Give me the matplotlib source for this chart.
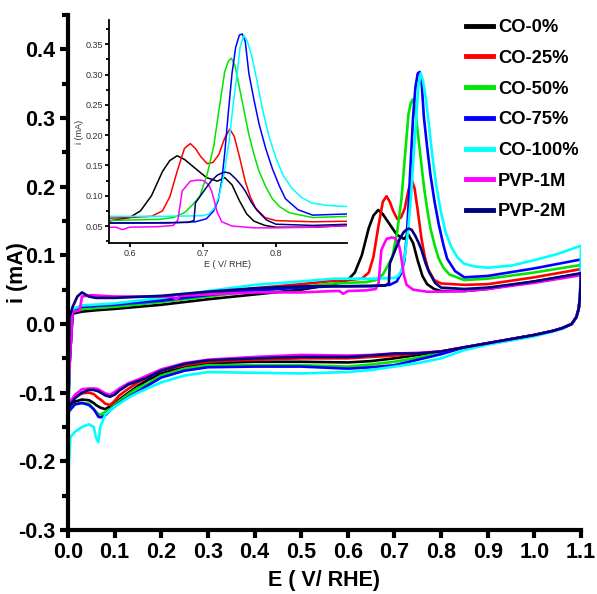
import matplotlib
matplotlib.use("Agg")
import matplotlib.pyplot as plt
from matplotlib.ticker import MultipleLocator, FormatStrFormatter
import warnings
warnings.filterwarnings("ignore")

plt.rcParams['font.family'] = ['Liberation Sans', 'DejaVu Sans']

labels = ["CO-0%", "CO-25%", "CO-50%", "CO-75%", "CO-100%", "PVP-1M", "PVP-2M"]
colors = ["#000000", "#ff0000", "#00e600", "#0000ff", "#00ffff", "#ff00ff", "#000080"]

# ---------- anodic sweeps (0 -> 1.1 V) ----------
E_an_black = [0.0, 0.004, 0.01, 0.03, 0.06, 0.1, 0.2, 0.3, 0.4, 0.5, 0.57, 0.6, 0.615, 0.63, 0.645, 0.655, 0.665, 0.675, 0.69, 0.705, 0.72, 0.73, 0.74, 0.75, 0.76, 0.77, 0.785, 0.8, 0.85, 0.9, 1.0, 1.1]
i_an_black = [-0.125, -0.05, 0.015, 0.018, 0.020, 0.022, 0.028, 0.036, 0.043, 0.050, 0.058, 0.064, 0.075, 0.100, 0.140, 0.158, 0.166, 0.160, 0.145, 0.130, 0.124, 0.130, 0.118, 0.092, 0.070, 0.058, 0.051, 0.048, 0.048, 0.051, 0.062, 0.073]

E_an_red = [0.0, 0.004, 0.01, 0.03, 0.1, 0.2, 0.3, 0.4, 0.5, 0.57, 0.6, 0.63, 0.645, 0.655, 0.665, 0.675, 0.683, 0.69, 0.697, 0.706, 0.714, 0.722, 0.73, 0.737, 0.743, 0.75, 0.758, 0.765, 0.772, 0.785, 0.8, 0.85, 0.9, 1.0, 1.1]
i_an_red = [-0.12, -0.05, 0.020, 0.025, 0.028, 0.035, 0.044, 0.052, 0.058, 0.063, 0.064, 0.066, 0.075, 0.098, 0.140, 0.178, 0.186, 0.178, 0.165, 0.153, 0.155, 0.168, 0.195, 0.210, 0.198, 0.165, 0.124, 0.098, 0.080, 0.064, 0.059, 0.057, 0.058, 0.068, 0.080]

E_an_green = [0.0, 0.004, 0.01, 0.03, 0.1, 0.2, 0.3, 0.4, 0.5, 0.57, 0.6, 0.64, 0.66, 0.675, 0.686, 0.696, 0.706, 0.715, 0.722, 0.73, 0.735, 0.739, 0.744, 0.749, 0.756, 0.763, 0.77, 0.777, 0.786, 0.795, 0.805, 0.818, 0.85, 0.9, 1.0, 1.1]
i_an_green = [-0.125, -0.05, 0.018, 0.022, 0.025, 0.032, 0.040, 0.048, 0.054, 0.059, 0.060, 0.061, 0.064, 0.072, 0.085, 0.099, 0.135, 0.182, 0.240, 0.305, 0.322, 0.327, 0.315, 0.285, 0.243, 0.201, 0.168, 0.140, 0.115, 0.095, 0.082, 0.072, 0.064, 0.066, 0.075, 0.086]

E_an_blue = [0.0, 0.004, 0.01, 0.03, 0.1, 0.2, 0.3, 0.4, 0.5, 0.57, 0.6, 0.65, 0.69, 0.705, 0.715, 0.721, 0.726, 0.73, 0.735, 0.74, 0.745, 0.75, 0.754, 0.758, 0.763, 0.77, 0.777, 0.786, 0.795, 0.805, 0.813, 0.83, 0.85, 0.9, 1.0, 1.1]
i_an_blue = [-0.13, -0.05, 0.020, 0.025, 0.028, 0.034, 0.042, 0.049, 0.053, 0.055, 0.055, 0.055, 0.057, 0.062, 0.075, 0.092, 0.125, 0.170, 0.238, 0.302, 0.345, 0.365, 0.367, 0.355, 0.302, 0.258, 0.218, 0.178, 0.145, 0.115, 0.095, 0.077, 0.068, 0.070, 0.081, 0.094]

E_an_cyan = [0.0, 0.004, 0.01, 0.03, 0.1, 0.2, 0.3, 0.4, 0.5, 0.57, 0.6, 0.65, 0.7, 0.708, 0.715, 0.722, 0.729, 0.736, 0.742, 0.747, 0.751, 0.756, 0.761, 0.767, 0.774, 0.781, 0.79, 0.8, 0.81, 0.822, 0.835, 0.849, 0.87, 0.9, 0.95, 1.0, 1.05, 1.1]
i_an_cyan = [-0.23, 0.0, 0.022, 0.027, 0.030, 0.038, 0.048, 0.057, 0.062, 0.066, 0.066, 0.066, 0.067, 0.070, 0.078, 0.098, 0.135, 0.190, 0.255, 0.302, 0.345, 0.365, 0.355, 0.330, 0.290, 0.246, 0.200, 0.162, 0.133, 0.112, 0.097, 0.088, 0.084, 0.082, 0.085, 0.093, 0.102, 0.114]

E_an_mag = [0.0, 0.004, 0.01, 0.025, 0.03, 0.05, 0.1, 0.2, 0.225, 0.232, 0.24, 0.3, 0.4, 0.5, 0.57, 0.582, 0.59, 0.6, 0.64, 0.66, 0.666, 0.672, 0.683, 0.694, 0.701, 0.708, 0.712, 0.715, 0.72, 0.726, 0.74, 0.77, 0.8, 0.85, 0.9, 1.0, 1.1]
i_an_mag = [-0.12, -0.05, 0.018, 0.020, 0.040, 0.042, 0.040, 0.040, 0.040, 0.035, 0.041, 0.043, 0.046, 0.046, 0.048, 0.048, 0.044, 0.048, 0.049, 0.051, 0.060, 0.108, 0.124, 0.126, 0.125, 0.118, 0.108, 0.095, 0.072, 0.057, 0.050, 0.047, 0.047, 0.048, 0.051, 0.060, 0.071]

E_an_navy = [0.0, 0.003, 0.01, 0.02, 0.03, 0.045, 0.06, 0.1, 0.2, 0.3, 0.4, 0.5, 0.57, 0.6, 0.68, 0.688, 0.69, 0.697, 0.704, 0.712, 0.72, 0.727, 0.731, 0.737, 0.745, 0.752, 0.758, 0.766, 0.774, 0.787, 0.8, 0.85, 0.9, 1.0, 1.1]
i_an_navy = [-0.125, 0.01, 0.025, 0.040, 0.046, 0.040, 0.038, 0.038, 0.041, 0.047, 0.052, 0.055, 0.055, 0.055, 0.056, 0.059, 0.088, 0.100, 0.112, 0.125, 0.134, 0.138, 0.139, 0.137, 0.128, 0.118, 0.108, 0.090, 0.076, 0.060, 0.053, 0.051, 0.053, 0.062, 0.074]

# ---------- cathodic sweeps (1.1 -> 0 V) ----------
E_cat = [1.1, 1.098, 1.095, 1.09, 1.08, 1.06, 1.04, 1.0, 0.9, 0.85, 0.8, 0.75, 0.7, 0.65, 0.6, 0.5, 0.4, 0.3, 0.25, 0.2, 0.17, 0.15, 0.13, 0.11, 0.1, 0.09, 0.08, 0.07, 0.065, 0.06, 0.055, 0.045, 0.03, 0.015, 0.005, 0.0]
i_cat_black = [0.073, 0.04, 0.022, 0.010, 0.0, -0.006, -0.010, -0.016, -0.028, -0.034, -0.040, -0.045, -0.050, -0.054, -0.056, -0.055, -0.055, -0.057, -0.062, -0.072, -0.082, -0.090, -0.100, -0.110, -0.115, -0.120, -0.124, -0.122, -0.120, -0.118, -0.115, -0.111, -0.110, -0.113, -0.120, -0.125]
i_cat_red = [0.080, 0.04, 0.022, 0.010, 0.0, -0.006, -0.010, -0.016, -0.028, -0.034, -0.040, -0.043, -0.046, -0.048, -0.050, -0.050, -0.052, -0.055, -0.060, -0.068, -0.078, -0.085, -0.094, -0.104, -0.112, -0.118, -0.116, -0.110, -0.108, -0.105, -0.102, -0.100, -0.101, -0.106, -0.114, -0.12]
i_cat_green = [0.086, 0.04, 0.022, 0.010, 0.0, -0.006, -0.010, -0.016, -0.028, -0.034, -0.042, -0.049, -0.055, -0.059, -0.062, -0.060, -0.060, -0.060, -0.065, -0.075, -0.087, -0.093, -0.102, -0.112, -0.118, -0.124, -0.128, -0.132, -0.131, -0.128, -0.124, -0.116, -0.115, -0.117, -0.122, -0.125]
i_cat_blue = [0.094, 0.04, 0.022, 0.010, 0.0, -0.006, -0.010, -0.016, -0.028, -0.034, -0.044, -0.052, -0.060, -0.063, -0.065, -0.062, -0.062, -0.063, -0.068, -0.078, -0.090, -0.098, -0.106, -0.115, -0.120, -0.126, -0.133, -0.136, -0.135, -0.129, -0.124, -0.118, -0.115, -0.117, -0.125, -0.13]
i_cat_cyan = [0.114, 0.04, 0.022, 0.010, 0.0, -0.007, -0.011, -0.018, -0.030, -0.038, -0.050, -0.057, -0.062, -0.067, -0.070, -0.072, -0.071, -0.070, -0.075, -0.085, -0.094, -0.100, -0.107, -0.116, -0.120, -0.126, -0.132, -0.148, -0.172, -0.165, -0.150, -0.146, -0.150, -0.157, -0.165, -0.23]
i_cat_mag = [0.071, 0.04, 0.022, 0.010, 0.0, -0.006, -0.010, -0.016, -0.028, -0.034, -0.040, -0.042, -0.043, -0.045, -0.046, -0.045, -0.048, -0.052, -0.057, -0.066, -0.075, -0.081, -0.086, -0.094, -0.099, -0.103, -0.101, -0.097, -0.095, -0.094, -0.094, -0.094, -0.095, -0.103, -0.113, -0.12]
i_cat_navy = [0.074, 0.04, 0.022, 0.010, 0.0, -0.006, -0.010, -0.016, -0.028, -0.034, -0.040, -0.043, -0.043, -0.046, -0.048, -0.048, -0.050, -0.053, -0.058, -0.068, -0.078, -0.083, -0.088, -0.097, -0.103, -0.106, -0.104, -0.100, -0.098, -0.097, -0.096, -0.096, -0.100, -0.108, -0.118, -0.125]

anodic = [(E_an_black, i_an_black), (E_an_red, i_an_red), (E_an_green, i_an_green),
          (E_an_blue, i_an_blue), (E_an_cyan, i_an_cyan), (E_an_mag, i_an_mag),
          (E_an_navy, i_an_navy)]
cathodic = [i_cat_black, i_cat_red, i_cat_green, i_cat_blue, i_cat_cyan, i_cat_mag, i_cat_navy]

W, H = 597, 594
fig = plt.figure(figsize=(W / 100, H / 100), dpi=100)
ax = fig.add_axes([68 / W, 1 - 530 / H, (581 - 68) / W, (530 - 15) / H])

for (Ea, ia), ic, c, lab in zip(anodic, cathodic, colors, labels):
    ax.plot(list(Ea) + E_cat, list(ia) + ic, color=c, lw=1.9, label=lab,
            solid_joinstyle='round')

ax.set_xlim(0, 1.1)
ax.set_ylim(-0.3, 0.45)
ax.set_xticks([k / 10 for k in range(12)])
ax.set_yticks([-0.3, -0.2, -0.1, 0.0, 0.1, 0.2, 0.3, 0.4])
ax.yaxis.set_minor_locator(MultipleLocator(0.05))
ax.xaxis.set_major_formatter(FormatStrFormatter('%.1f'))
ax.yaxis.set_major_formatter(FormatStrFormatter('%.1f'))
for s in ['top', 'right']:
    ax.spines[s].set_visible(False)
for s in ['left', 'bottom']:
    ax.spines[s].set_linewidth(3)
ax.tick_params(axis='both', which='major', direction='out', length=6, width=3,
               labelsize=15.5, pad=3)
ax.tick_params(axis='y', which='minor', direction='out', length=4, width=3)
for t in ax.get_xticklabels() + ax.get_yticklabels():
    t.set_fontweight('bold')
ax.set_xlabel('E ( V/ RHE)', fontsize=15.5, fontweight='bold', labelpad=5)
ax.set_ylabel('i (mA)', fontsize=15.5, fontweight='bold')
ax.yaxis.set_label_coords(-0.078, 0.5)
ax.patch.set_alpha(0)

leg = fig.legend(loc='upper left', bbox_to_anchor=(466 / W, 1 - 19 / H),
                 frameon=False, borderpad=0, borderaxespad=0,
                 handlelength=1.45, handletextpad=0.3, labelspacing=0.75,
                 prop={'weight': 'bold', 'size': 13.2})
for l in leg.get_lines():
    l.set_linewidth(3.5)

# ---------- inset ----------
ins = fig.add_axes([109 / W, 1 - 243 / H, (347 - 109) / W, (243 - 20) / H])
for (Ea, ia), c in zip(anodic, colors):
    ins.plot(Ea, ia, color=c, lw=1.1)
ins.set_xlim(0.572, 0.897)
ins.set_ylim(0.022, 0.39)
ins.set_xticks([0.6, 0.7, 0.8])
ins.set_yticks([0.05, 0.10, 0.15, 0.20, 0.25, 0.30, 0.35])
ins.yaxis.set_minor_locator(MultipleLocator(0.025))
ins.xaxis.set_major_formatter(FormatStrFormatter('%.1f'))
ins.yaxis.set_major_formatter(FormatStrFormatter('%.2f'))
for s in ['top', 'right']:
    ins.spines[s].set_visible(False)
for s in ['left', 'bottom']:
    ins.spines[s].set_linewidth(1.3)
ins.tick_params(axis='both', which='major', direction='out', length=3, width=1.3,
                labelsize=6.5, pad=1.5, labelcolor='#333333')
ins.tick_params(axis='y', which='minor', direction='out', length=2, width=1.3)
ins.set_xlabel('E ( V/ RHE)', fontsize=6.5, labelpad=1, color='#333333')
ins.set_ylabel('i (mA)', fontsize=6.5, labelpad=1, color='#333333')
ins.patch.set_alpha(0)

fig.savefig('out.png', dpi=100)
